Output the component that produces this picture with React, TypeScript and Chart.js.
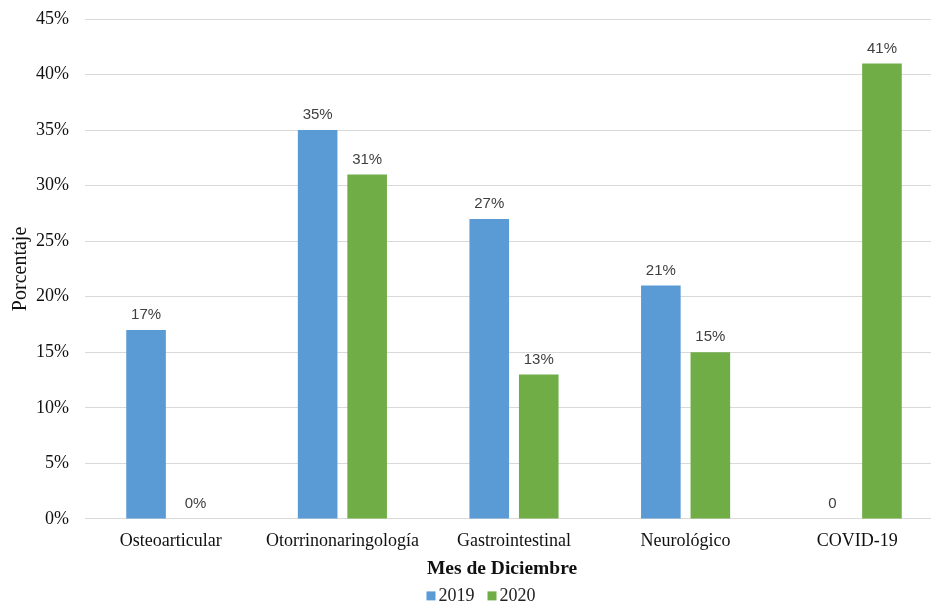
import React, { useEffect, useRef } from "react";
import { Chart, registerables } from "chart.js";

Chart.register(...registerables);

const categories = ["Osteoarticular", "Otorrinonaringología", "Gastrointestinal", "Neurológico", "COVID-19"];
const seriesNames = ["2019", "2020"];
const values2019 = [17, 35, 27, 21, 0];
const values2020 = [0, 31, 13, 15, 41];
const labels2019 = ["17%", "35%", "27%", "21%", "0"];
const labels2020 = ["0%", "31%", "13%", "15%", "41%"];
const yTickValues = [0, 5, 10, 15, 20, 25, 30, 35, 40, 45];
const xTitle = "Mes de Diciembre";
const yTitle = "Porcentaje";

const BLUE = "#5B9BD5";
const GREEN = "#70AD47";
const SERIF = '"Liberation Serif", "Times New Roman", serif';
const SANS = '"Liberation Sans", Arial, sans-serif';

const dataLabels = [labels2019, labels2020];

const labelPlugin = {
  id: "customLabels",
  afterDatasetsDraw(chart: any) {
    const ctx = chart.ctx;
    ctx.save();
    ctx.font = `15px ${SANS}`;
    ctx.fillStyle = "#404040";
    ctx.textAlign = "center";
    ctx.textBaseline = "middle";
    chart.data.datasets.forEach((_ds: any, i: number) => {
      const meta = chart.getDatasetMeta(i);
      meta.data.forEach((bar: any, j: number) => {
        ctx.fillText(dataLabels[i][j], bar.x, bar.y - 15);
      });
    });
    ctx.restore();
  },
  afterDraw(chart: any) {
    const ctx = chart.ctx;
    const area = chart.chartArea;
    const mid = (area.left + area.right) / 2;
    ctx.save();
    // x axis title
    ctx.font = `bold 19.5px ${SERIF}`;
    ctx.fillStyle = "#111";
    ctx.textAlign = "center";
    ctx.textBaseline = "middle";
    ctx.fillText(xTitle, mid - 12, area.bottom + 50);
    // legend
    ctx.font = `18px ${SERIF}`;
    const sq = 9;
    const gap = 3;
    const spacing = 13;
    const ds = chart.data.datasets;
    let total = 0;
    ds.forEach((d: any, i: number) => {
      total += sq + gap + ctx.measureText(d.label).width + (i < ds.length - 1 ? spacing : 0);
    });
    let x = mid - 33 - total / 2;
    const y = area.bottom + 77;
    ctx.textAlign = "left";
    ds.forEach((d: any) => {
      ctx.fillStyle = d.backgroundColor;
      ctx.fillRect(x, y - sq / 2, sq, sq);
      x += sq + gap;
      ctx.fillStyle = "#222";
      ctx.fillText(d.label, x, y);
      x += ctx.measureText(d.label).width + spacing;
    });
    ctx.restore();
  },
};

export default function App() {
  const ref = useRef<HTMLCanvasElement | null>(null);
  useEffect(() => {
    if (!ref.current) return;
    const chart = new Chart(ref.current, {
      type: "bar",
      data: {
        labels: categories,
        datasets: [
          { label: seriesNames[0], data: values2019, backgroundColor: BLUE, barPercentage: 0.8, categoryPercentage: 0.577 },
          { label: seriesNames[1], data: values2020, backgroundColor: GREEN, barPercentage: 0.8, categoryPercentage: 0.577 },
        ],
      },
      options: {
        responsive: false,
        animation: false,
        layout: { padding: { left: 9, right: 3, top: 19, bottom: 41.5 } },
        plugins: {
          legend: { display: false },
          tooltip: { enabled: false },
          title: { display: false },
        },
        scales: {
          x: {
            grid: { display: false, drawTicks: false },
            border: { display: false },
            ticks: { color: "#111", font: { family: SERIF, size: 18 }, padding: 12, maxRotation: 0, autoSkip: false },
            afterFit: (axis: any) => {
              axis.paddingLeft = 0;
              axis.paddingRight = 0;
            },
          },
          y: {
            min: 0,
            max: 45,
            afterBuildTicks: (axis: any) => {
              axis.ticks = yTickValues.map((v) => ({ value: v }));
            },
            afterFit: (axis: any) => {
              axis.width = 76;
              axis.paddingTop = 0;
              axis.paddingBottom = 0;
            },
            grid: { color: "#d9d9d9", drawTicks: false, lineWidth: 1 },
            border: { display: false },
            ticks: {
              color: "#111",
              font: { family: SERIF, size: 18 },
              padding: 16,
              callback: (v: any) => `${v}%`,
            },
            title: {
              display: true,
              text: yTitle,
              color: "#111",
              font: { family: SERIF, size: 20 },
              padding: { top: 0, bottom: 4 },
            },
          },
        },
      },
      plugins: [labelPlugin],
    });
    return () => chart.destroy();
  }, []);
  return (
    <div style={{ position: "fixed", left: 0, top: 0, width: 931, height: 606, overflow: "hidden", background: "#fff" }}>
      <canvas ref={ref} width={946} height={606} style={{ display: "block" }} />
    </div>
  );
}
